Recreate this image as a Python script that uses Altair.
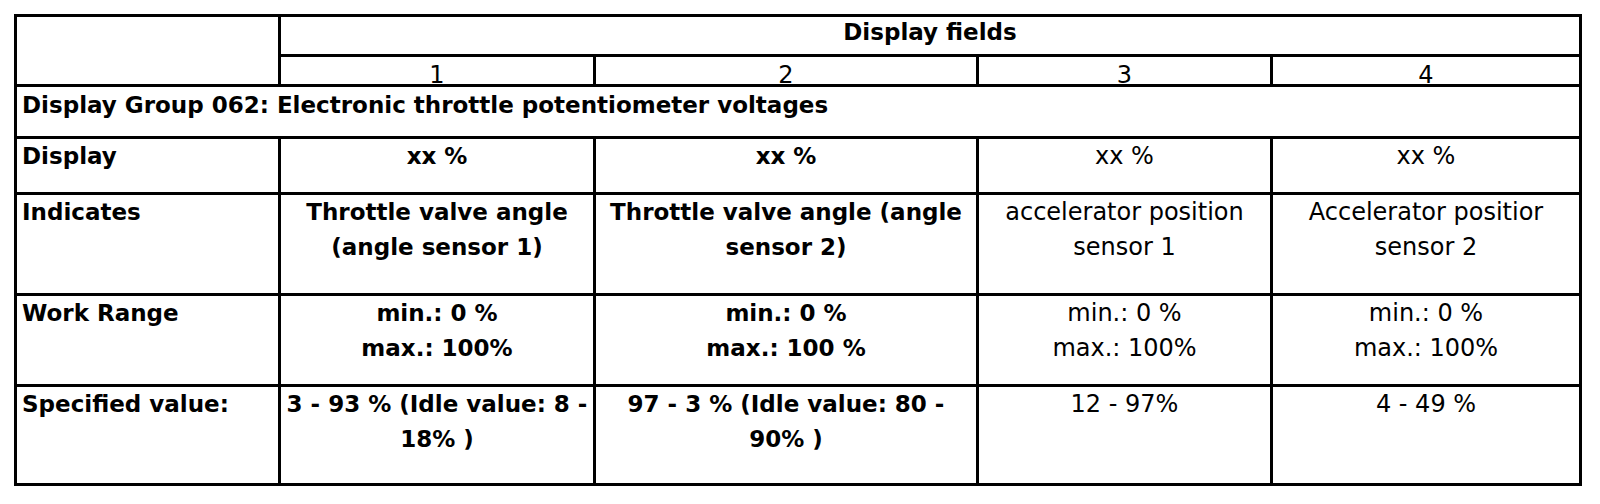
import altair as alt
import pandas as pd

# ---- table content ----
header_title = "Display fields"
field_numbers = ["1", "2", "3", "4"]
group_title = "Display Group 062: Electronic throttle potentiometer voltages"
row_labels = ["Display", "Indicates", "Work Range", "Specified value:"]
display_values = ["xx %", "xx %", "xx %", "xx %"]
indicates_values = [
    "Throttle valve angle\n(angle sensor 1)",
    "Throttle valve  angle (angle\nsensor 2)",
    "accelerator position\nsensor 1",
    "Accelerator positior\nsensor 2",
]
work_range_values = [
    "min.: 0 %\nmax.: 100%",
    "min.: 0 %\nmax.: 100 %",
    "min.: 0 %\nmax.: 100%",
    "min.: 0 %\nmax.: 100%",
]
specified_values = [
    "3 - 93 % (Idle value: 8 -\n18% )",
    "97 - 3 % (Idle value: 80 -\n90% )",
    "12 - 97%",
    "4 - 49 %",
]
bold_fields = [True, True, False, False]

# ---- layout (pixel grid of the table) ----
COL_EDGES = [15.5, 279.5, 594.5, 977.5, 1271.5, 1580.5]
ROW_EDGES = [15.5, 55.5, 85.5, 137.5, 193.5, 294.5, 385.5, 484.5]
LEFT, RIGHT, TOP, BOTTOM = COL_EDGES[0], COL_EDGES[-1], ROW_EDGES[0], ROW_EDGES[-1]
BASE_OFF = 26
LABEL_X = 22
FONT = "DejaVu Sans"

# grid segments
segs = []
for i, y in enumerate(ROW_EDGES):
    x1 = COL_EDGES[1] if i == 1 else LEFT
    segs.append(dict(x=x1, x2=RIGHT, y=y, y2=y))
segs.append(dict(x=LEFT, x2=LEFT, y=TOP, y2=BOTTOM))
segs.append(dict(x=RIGHT, x2=RIGHT, y=TOP, y2=BOTTOM))
segs.append(dict(x=COL_EDGES[1], x2=COL_EDGES[1], y=TOP, y2=ROW_EDGES[2]))
segs.append(dict(x=COL_EDGES[1], x2=COL_EDGES[1], y=ROW_EDGES[3], y2=BOTTOM))
for cx in COL_EDGES[2:5]:
    segs.append(dict(x=cx, x2=cx, y=ROW_EDGES[1], y2=ROW_EDGES[2]))
    segs.append(dict(x=cx, x2=cx, y=ROW_EDGES[3], y2=BOTTOM))
grid_df = pd.DataFrame(segs)

# text cells
cells = []
cells.append(dict(x=(COL_EDGES[1] + RIGHT) / 2, y=TOP + 24, label=header_title, bold=True, anchor="center"))
for j, n in enumerate(field_numbers):
    cx = (COL_EDGES[j + 1] + COL_EDGES[j + 2]) / 2
    cells.append(dict(x=cx, y=ROW_EDGES[1] + 27, label=n, bold=False, anchor="center"))
cells.append(dict(x=LABEL_X, y=ROW_EDGES[2] + 27, label=group_title, bold=True, anchor="left"))
rows = [display_values, indicates_values, work_range_values, specified_values]
for r, (lab, vals) in enumerate(zip(row_labels, rows)):
    top = ROW_EDGES[3 + r]
    cells.append(dict(x=LABEL_X, y=top + BASE_OFF, label=lab, bold=True, anchor="left"))
    for j, v in enumerate(vals):
        cx = (COL_EDGES[j + 1] + COL_EDGES[j + 2]) / 2
        cells.append(dict(x=cx, y=top + BASE_OFF, label=v, bold=bold_fields[j], anchor="center"))
cell_df = pd.DataFrame(cells)

xs = alt.Scale(domain=[8, 1592], nice=False, zero=False)
ys = alt.Scale(domain=[8, 496], nice=False, zero=False, reverse=True)

grid = alt.Chart(grid_df).mark_rule(color="black", strokeWidth=3, strokeCap="square").encode(
    x=alt.X("x:Q", scale=xs, axis=None),
    x2="x2:Q",
    y=alt.Y("y:Q", scale=ys, axis=None),
    y2="y2:Q",
)


def text_layer(df, align, bold):
    return alt.Chart(df).mark_text(
        align=align,
        baseline="alphabetic",
        font=FONT,
        fontSize=23 if bold else 24,
        fontWeight="bold" if bold else "normal",
        color="black",
        lineBreak="\n",
        lineHeight=35,
    ).encode(
        x=alt.X("x:Q", scale=xs, axis=None),
        y=alt.Y("y:Q", scale=ys, axis=None),
        text="label:N",
    )


layers = [grid]
for align in ["left", "center"]:
    for bold in [True, False]:
        sub = cell_df[(cell_df["anchor"] == align) & (cell_df["bold"] == bold)][["x", "y", "label"]]
        if len(sub):
            layers.append(text_layer(sub.reset_index(drop=True), align, bold))

chart = alt.layer(*layers).properties(
    width=1584, height=488, padding=0, autosize="none", background="white"
).configure_view(stroke=None)

chart.save("out.html", embed_options={"renderer": "svg", "actions": False})
